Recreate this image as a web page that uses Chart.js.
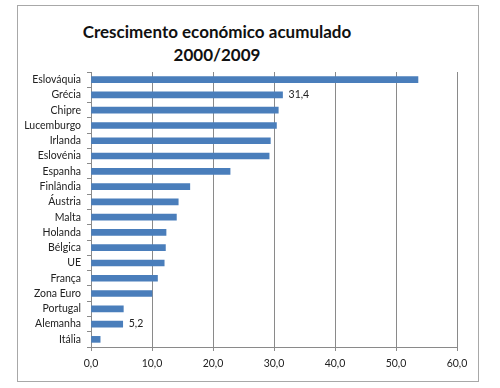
<!DOCTYPE html>
<html>
<head>
<meta charset="utf-8">
<script src="https://cdn.jsdelivr.net/npm/chart.js@4/dist/chart.umd.min.js"></script>
<style>
  body { margin: 0; background: #fff; }
  #wrap { position: relative; width: 500px; height: 388px; }
  #frame { position: absolute; left: 17px; top: 5px; width: 460px; height: 375px; border: 1px solid #a8a8a8; }
  #title { position: absolute; left: 0; width: 434px; top: 20px; text-align: center;
           font: bold 17px Lato, sans-serif; line-height: 23px; color: #111; }
  canvas { position: absolute; left: 0; top: 0; }
</style>
</head>
<body>
<div id="wrap">
  <div id="frame"></div>
  <div id="title">Crescimento económico acumulado<br>2000/2009</div>
  <canvas id="chart" width="500" height="388"></canvas>
</div>
<script>
const countries = ["Eslováquia", "Grécia", "Chipre", "Lucemburgo", "Irlanda", "Eslovénia", "Espanha",
  "Finlândia", "Áustria", "Malta", "Holanda", "Bélgica", "UE", "França", "Zona Euro", "Portugal",
  "Alemanha", "Itália"];
const growth = [53.6, 31.4, 30.7, 30.4, 29.4, 29.2, 22.8, 16.2, 14.3, 14.0, 12.3, 12.2, 12.0, 10.9,
  10.0, 5.3, 5.2, 1.5];
const labelled = ["Grécia", "Alemanha"];
const xTicks = [0, 10, 20, 30, 40, 50, 60];

const fmt = v => v.toFixed(1).replace(".", ",");

// value labels next to a couple of bars
const valueLabels = {
  id: "valueLabels",
  afterDatasetsDraw(chart) {
    const { ctx } = chart;
    const meta = chart.getDatasetMeta(0);
    ctx.save();
    ctx.font = "10.5px Lato, sans-serif";
    ctx.fillStyle = "#222";
    ctx.textBaseline = "middle";
    meta.data.forEach((bar, i) => {
      if (labelled.includes(countries[i])) {
        ctx.fillText(fmt(growth[i]), bar.x + 6, bar.y);
      }
    });
    ctx.restore();
  }
};

new Chart(document.getElementById("chart"), {
  type: "bar",
  data: {
    labels: countries,
    datasets: [{
      data: growth,
      backgroundColor: "#4a7ebb",
      barThickness: 6
    }]
  },
  options: {
    indexAxis: "y",
    responsive: false,
    animation: false,
    layout: { padding: { left: 0, top: 72, right: 43, bottom: 0 } },
    plugins: { legend: { display: false }, tooltip: { enabled: false } },
    scales: {
      x: {
        min: 0, max: 60,
        afterBuildTicks: s => { s.ticks = xTicks.map(v => ({ value: v })); },
        afterFit: s => { s.height = 41; },
        grid: { color: "#8a8a8a", tickLength: 4, tickColor: "#8a8a8a" },
        border: { color: "#8a8a8a" },
        ticks: { padding: 6, color: "#222", font: { family: "Lato", size: 10.5 },
                 callback: v => fmt(v) }
      },
      y: {
        afterFit: s => { s.width = 91; },
        grid: { drawOnChartArea: false, offset: true, tickLength: 4, tickColor: "#8a8a8a" },
        border: { color: "#8a8a8a" },
        ticks: { autoSkip: false, padding: 6, color: "#222", font: { family: "Lato", size: 10.5 } }
      }
    }
  },
  plugins: [valueLabels]
});
</script>
</body>
</html>
